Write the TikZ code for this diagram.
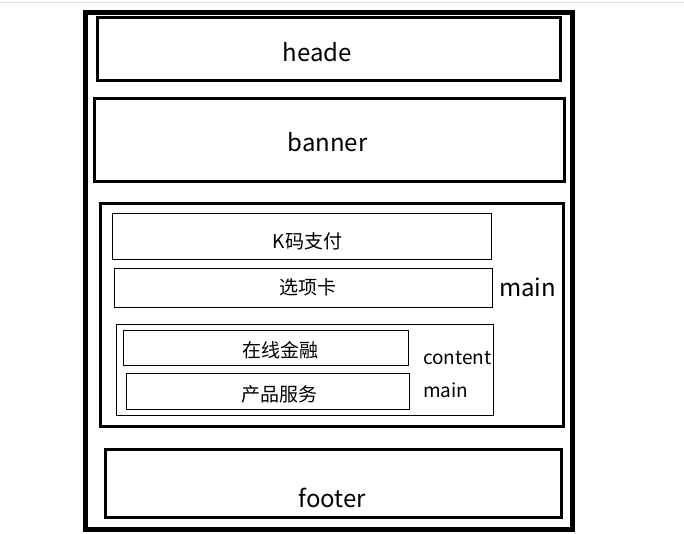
\documentclass[tikz,border=0pt]{standalone}
\usepackage{fontspec}
\setmainfont{Noto Sans CJK SC}
\usetikzlibrary{positioning}

\tikzset{
  pageframe/.style={draw, line width=5pt, inner sep=0pt},
  blockbox/.style={draw, line width=3pt, inner sep=0pt},
  itembox/.style={draw, line width=1pt, inner sep=0pt},
  bigtext/.style={font=\fontsize{24}{28}\selectfont, inner sep=0pt, anchor=base},
  smalltext/.style={font=\fontsize{19}{22}\selectfont, inner sep=0pt, anchor=base},
}

% box from its two corners: style, name, x1, y1, x2, y2
\newcommand{\layoutbox}[6]{%
  \node [#1, minimum width={(#5-#3)*1pt}, minimum height={(#6-#4)*1pt}]
    (#2) at ({(#3+#5)/2},{(#4+#6)/2}) {};}

\begin{document}
\begin{tikzpicture}[x=1pt,y=-1pt]

\def\width{684}
\def\height{533}

\path [use as bounding box] (0,0) rectangle (\width,\height);

% SCREEN EDGE
\draw [gray!25, line width=1pt] (0,2) -- (\width,2);

% PAGE
\layoutbox{pageframe}{page}{85.5}{12}{572.5}{529.5}

% HEADE + BANNER
\layoutbox{blockbox}{heade}{97.5}{17.5}{560}{80}
\node [bigtext] (headetext) at (317.5,61) {heade};
\layoutbox{blockbox}{banner}{94.5}{98}{564}{181}
\node [bigtext] (bannertext) at (327.5,151) {banner};

% MAIN
\layoutbox{blockbox}{main}{100.5}{203}{563.5}{426}
\node [bigtext] (maintext) at (527.5,296.7) {main};
\layoutbox{itembox}{kpay}{112.3}{213.3}{491.3}{259}
\node [smalltext] (kpaytext) at (307.5,248.3) {K码支付};
\layoutbox{itembox}{tabs}{114.3}{268.3}{492.3}{307.3}
\node [smalltext] (tabstext) at (307.5,294) {选项卡};

% CONTENT
\layoutbox{itembox}{content}{116.3}{324.3}{493.3}{415.3}
\layoutbox{itembox}{finance}{123.3}{330.3}{408.3}{365.3}
\node [smalltext] (financetext) at (280.8,357) {在线金融};
\layoutbox{itembox}{service}{126.3}{373.7}{409.3}{409}
\node [smalltext] (servicetext) at (279.7,401) {产品服务};
\node [smalltext, anchor=base west] (contenttext) at (423,364.3) {content};
\node [smalltext, anchor=base west] (contentmain) at (423,397.7) {main};

% FOOTER
\layoutbox{blockbox}{footer}{105.7}{449}{561.7}{517.7}
\node [bigtext] (footertext) at (332.5,507.7) {footer};

\end{tikzpicture}
\end{document}
